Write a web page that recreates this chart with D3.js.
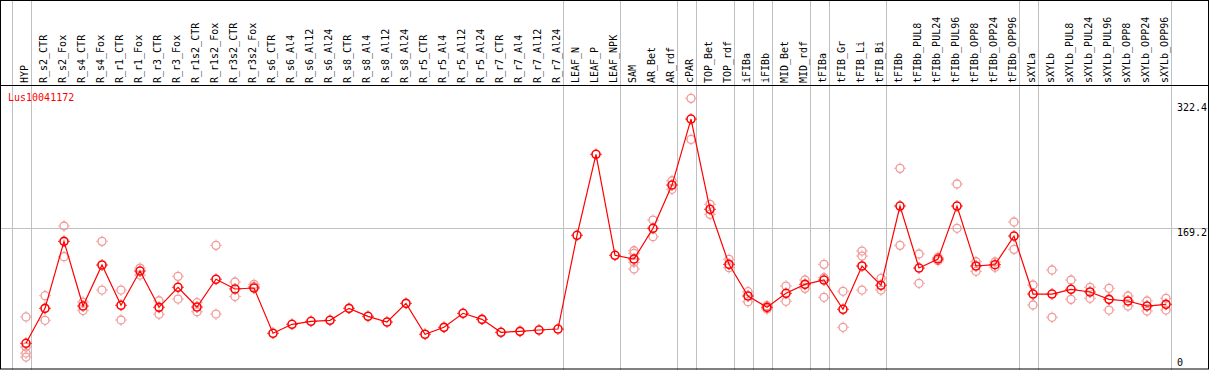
<!DOCTYPE html>
<html>
<head>
<meta charset="UTF-8">
<title>Lus10041172</title>
<script src="https://d3js.org/d3.v7.min.js"></script>
<style>
  body { margin: 0; background: #fff; }
  svg { display: block; }
  text { font-family: "DejaVu Sans Mono", monospace; font-size: 10px; }
</style>
</head>
<body>
<svg width="1209" height="370"></svg>
<script>
// samples, in plot order
const samples = ["HYP",
  "R_s2_CTR","R_s2_Fox","R_s4_CTR","R_s4_Fox","R_r1_CTR","R_r1_Fox","R_r3_CTR","R_r3_Fox",
  "R_r1s2_CTR","R_r1s2_Fox","R_r3s2_CTR","R_r3s2_Fox",
  "R_s6_CTR","R_s6_Al4","R_s6_Al12","R_s6_Al24","R_s8_CTR","R_s8_Al4","R_s8_Al12","R_s8_Al24",
  "R_r5_CTR","R_r5_Al4","R_r5_Al12","R_r5_Al24","R_r7_CTR","R_r7_Al4","R_r7_Al12","R_r7_Al24",
  "LEAF_N","LEAF_P","LEAF_NPK","SAM","AR_Bet","AR_rdf","cPAR","TOP_Bet","TOP_rdf",
  "iFIBa","iFIBb","MID_Bet","MID_rdf","tFIBa","tFIB_Gr","tFIB_Li","tFIB_Bi",
  "tFIBb","tFIBb_PUL8","tFIBb_PUL24","tFIBb_PUL96","tFIBb_OPP8","tFIBb_OPP24","tFIBb_OPP96",
  "sXYLa","sXYLb","sXYLb_PUL8","sXYLb_PUL24","sXYLb_PUL96","sXYLb_OPP8","sXYLb_OPP24","sXYLb_OPP96"];

// mean expression per sample
const means = [27.8,
  70.7,152.8,73.5,123.8,74.4,116.4,71.9,96.5,
  72.3,106.3,94.4,95.6,
  40.1,51.1,54.8,56.0,70.7,60.9,53.9,76.8,
  38.9,47.4,64.6,57.2,41.3,42.5,44.1,45.3,
  160.2,259.5,135.7,131.1,168.8,221.8,302.7,192.1,124.6,
  85.8,71.9,89.1,100.1,105.4,69.5,122.6,98.9,
  196.1,120.1,131.1,196.1,122.6,124.2,159.3,
  88.2,88.2,94.0,90.7,81.7,79.7,73.5,75.6];

// replicate values per sample (empty where none are shown)
const replicates = [[60.1,23.3,15.9,11.0],
  [86.2,56.0],[171.6,134.0],[78.4,68.0],[152.8,93.1],[93.1,56.4],[120.1,111.5],[80.0,63.4],[109.9,82.1],
  [77.6,66.5],[147.9,63.7],[103.0,85.2],[100.1,97.4],
  [],[],[],[],[],[],[],[],
  [],[],[],[],[],[],[],[],
  [],[],[],[141.3,138.1,127.1,118.9],[178.9,158.5],[227.1,216.6],[328.1,277.8],[198.2,185.9],[130.8,120.5],
  [91.1,78.8],[73.9,69.9],[98.0,79.3],[105.4,95.2],[124.6,108.2,84.2],[91.6,47.4],[140.9,134.8,93.1],[107.5,93.1],
  [242.3,147.9],[137.3,101.4],[133.2,129.1],[223.1,168.8],[127.8,116.1],[127.5,121.0],[176.5,143.0],
  [99.3,74.8],[117.7,59.7],[105.4,81.7],[96.5,83.0],[95.2,68.6],[85.8,73.5],[79.7,67.4],[83.0,68.6]];

// group boundaries: a separator is drawn after each of these samples
const groupEnds = ["HYP","R_r7_Al24","LEAF_NPK","AR_rdf","cPAR","TOP_rdf","iFIBa","iFIBb",
  "MID_rdf","tFIBa","tFIB_Bi","tFIBb_OPP96","sXYLa","sXYLb_OPP96"];

const yTicks = [0, 169.2, 322.4];
const gridValues = [169.2];
const geneName = "Lus10041172";

const W = 1209, H = 370, headerH = 85;
const svg = d3.select("svg");

const x = d3.scalePoint().domain(samples).range([26, 26 + 19 * (samples.length - 1)]);
const step = x.step();
const y = d3.scaleLinear().domain([0, 322.4]).range([366, 103]);

// horizontal grid
svg.append("g").selectAll("line").data(gridValues).join("line")
  .attr("x1", 0).attr("x2", W)
  .attr("y1", d => Math.round(y(d)) + 0.5).attr("y2", d => Math.round(y(d)) + 0.5)
  .attr("stroke", "#c0c0c0");

// vertical separators
const sepX = [x(samples[0]) - step + 4.5].concat(groupEnds.map(s => x(s) + 4.5));
svg.append("g").selectAll("line").data(sepX).join("line")
  .attr("x1", d => Math.round(d) + 0.5).attr("x2", d => Math.round(d) + 0.5)
  .attr("y1", 0).attr("y2", H)
  .attr("stroke", "#c0c0c0");

// frame and header line
svg.append("rect").attr("x", 0.5).attr("y", 0.5).attr("width", W - 1).attr("height", H - 1.5)
  .attr("fill", "none").attr("stroke", "#000");
svg.append("line").attr("x1", 0).attr("x2", W).attr("y1", headerH + 0.5).attr("y2", headerH + 0.5)
  .attr("stroke", "#000");

// sample labels
svg.append("g").selectAll("text").data(samples).join("text")
  .attr("transform", d => `translate(${x(d) + 2},${headerH - 2}) rotate(-90)`)
  .attr("fill", "#000")
  .text(d => d);

// y labels on the right
svg.append("g").selectAll("text").data(yTicks).join("text")
  .attr("x", 1177)
  .attr("y", d => d === 0 ? y(d) : y(d) + 8)
  .attr("fill", "#000")
  .text(d => d);

svg.append("text").attr("x", 8).attr("y", 101).attr("fill", "#ff0000").text(geneName);

function marker(g, cx, cy, color, sw) {
  g.append("circle").attr("cx", cx).attr("cy", cy).attr("r", 4)
    .attr("fill", "none").attr("stroke", color).attr("stroke-width", sw);
  [[0, -1], [0, 1], [-1, 0], [1, 0]].forEach(([dx, dy]) => {
    g.append("line")
      .attr("x1", cx + dx * 4.5).attr("y1", cy + dy * 4.5)
      .attr("x2", cx + dx * 5.8).attr("y2", cy + dy * 5.8)
      .attr("stroke", color).attr("stroke-width", 1);
  });
}

// replicate points
const reps = svg.append("g");
replicates.forEach((vals, i) => {
  vals.forEach(v => marker(reps, x(samples[i]), y(v), "#f09898", 1.3));
});

// mean line
svg.append("path")
  .datum(means)
  .attr("fill", "none").attr("stroke", "#ff0000").attr("stroke-width", 1.2)
  .attr("d", d3.line().x((d, i) => x(samples[i])).y(d => y(d)));

const meanG = svg.append("g");
means.forEach((v, i) => marker(meanG, x(samples[i]), y(v), "#ff0000", 1.6));
</script>
</body>
</html>
